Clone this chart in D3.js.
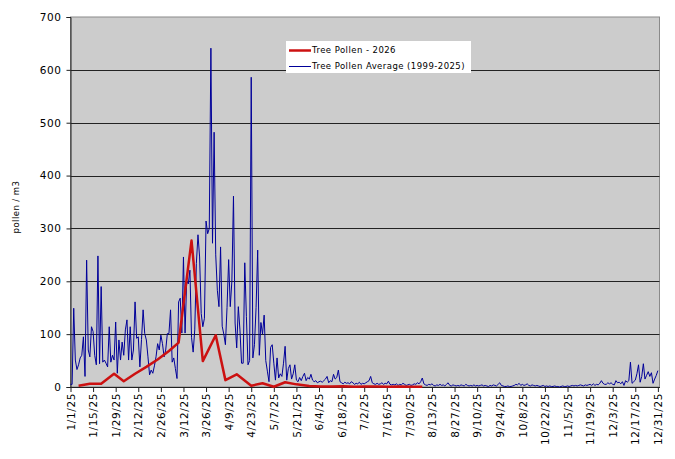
<!DOCTYPE html>
<html>
<head>
<meta charset="utf-8">
<script src="https://cdn.jsdelivr.net/npm/d3@7"></script>
<style>
  body { margin: 0; background: #fff; }
  text { font-family: "DejaVu Sans", Verdana, sans-serif; fill: #000; }
</style>
</head>
<body>
<div id="chart"></div>
<script>
// Daily tree pollen average (1999-2025), one value per day from 1/1/25
const avgStart = "1/1/25";
const avgValues = [
  5, 5, 149, 51, 33, 42, 55, 60, 95, 20,
  240, 70, 57, 114, 105, 60, 42, 248, 44, 190,
  47, 51, 45, 38, 114, 47, 60, 51, 123, 26,
  89, 51, 85, 60, 108, 127, 51, 114, 51, 70,
  161, 92, 95, 38, 90, 146, 101, 89, 57, 23,
  32, 26, 40, 57, 82, 70, 98, 82, 57, 70,
  101, 101,
  146, 47, 55, 35, 16, 161, 168, 102,
  246, 102, 200, 195, 221, 94, 66, 108, 234, 288,
  246, 139, 114, 130, 314, 290, 300, 641, 272, 482,
  250, 183, 152, 265, 115, 100, 80, 150, 241, 152,
  200, 361, 121, 74, 152, 108, 45, 45, 235, 133,
  42, 50, 586, 55, 80, 150, 259, 60, 122, 100,
  136, 50, 30, 10, 75, 80, 45, 13, 55, 17,
  25, 20, 45, 77, 13, 35,
  42, 15, 25, 42, 13, 10, 18, 12, 20, 26,
  12, 18, 15, 24, 13, 10, 12, 8, 10, 11,
  9, 12, 15, 20, 8, 12, 10, 24, 15, 18,
  32, 10, 8, 6, 9, 7, 8, 6, 10, 8,
  5, 7, 6, 9, 5, 7, 6, 8, 10, 12,
  20, 8, 6, 5, 7, 5, 6, 8, 5, 7,
  6, 11, 5, 4,
  5, 4, 6, 3, 5, 4, 7, 5, 3, 4,
  5, 3, 4, 6, 5, 8, 6, 10, 17, 6,
  4, 3, 5, 4, 6, 3, 2, 4, 3, 5,
  3, 4, 2, 5, 8, 3, 2, 4, 3, 2,
  3, 2, 4, 3, 2, 5, 3, 2, 3, 2,
  4, 2, 3, 2, 3, 4, 2, 3, 2, 1,
  3, 2, 4, 3, 2, 5, 8, 3, 2, 1,
  1, 2, 1, 1, 2, 3, 5, 4, 7, 3,
  5, 3, 4, 6, 3, 2, 4, 3, 2, 3,
  2, 1, 2, 3, 1, 2, 1, 2, 1, 1,
  2, 1, 1, 0, 1, 2, 1, 1, 2, 1,
  2, 3, 2, 3, 2, 3, 4, 3, 2, 4,
  3, 4, 5, 3, 6, 3, 5, 4, 7, 12,
  7, 5, 5, 8, 6, 8, 5, 4, 12, 8,
  9, 6, 10, 3, 12, 9, 12, 47, 7, 10,
  13, 25, 42, 9, 20, 44, 15, 22, 29, 20,
  27, 7, 15, 22, 31
];

// 2026 samples, plotted on the same calendar axis
const pollen2026Dates = [
  "1/6/25", "1/13/25", "1/20/25", "1/28/25", "2/3/25", "2/10/25", "2/17/25",
  "2/24/25", "3/3/25", "3/9/25", "3/17/25", "3/24/25", "4/1/25", "4/7/25",
  "4/14/25", "4/23/25", "4/30/25", "5/7/25", "5/14/25", "5/21/25", "5/29/25",
  "6/5/25", "6/12/25", "6/19/25", "6/26/25", "7/3/25", "7/10/25", "7/17/25",
  "7/24/25", "7/31/25", "8/7/25"
];
const pollen2026Values = [
  2.5, 6, 6, 25, 11, 25, 38,
  52, 68, 84, 277, 49, 98, 13,
  24, 2.5, 7, 0.5, 9, 5, 2,
  1, 1, 1.5, 0.5, 1, 1, 0.5,
  1, 0.5, 0.5
];

const yTicks = [0, 100, 200, 300, 400, 500, 600, 700];
const seriesNames = ["Tree Pollen - 2026", "Tree Pollen Average (1999-2025)"];

const parse = d3.timeParse("%m/%d/%y");
const fmt = d3.timeFormat("%-m/%-d/%y");
const start = parse(avgStart);
const end = d3.timeDay.offset(start, 365);

const avgData = avgValues.map((v, i) => ({ date: d3.timeDay.offset(start, i), value: v }));
const data2026 = pollen2026Dates.map((d, i) => ({ date: parse(d), value: pollen2026Values[i] }));

const width = 675;
const height = 459;
const margin = { top: 17, right: 15.5, bottom: 72, left: 70.5 };

const svg = d3
  .select("#chart")
  .append("svg")
  .attr("width", width)
  .attr("height", height);

const x = d3.scaleTime().domain([start, end]).range([margin.left, width - margin.right]);
const y = d3.scaleLinear().domain([0, 700]).range([height - margin.bottom, margin.top]);

// plot area
svg
  .append("rect")
  .attr("x", margin.left)
  .attr("y", margin.top)
  .attr("width", width - margin.right - margin.left)
  .attr("height", height - margin.bottom - margin.top)
  .attr("fill", "#cccccc")
  .attr("stroke", "#8a8a8a")
  .attr("stroke-width", 1);

// gridlines
svg
  .append("g")
  .selectAll("line")
  .data(yTicks.filter((t) => t > 0 && t < 700))
  .enter()
  .append("line")
  .attr("x1", margin.left)
  .attr("x2", width - margin.right)
  .attr("y1", (d) => Math.round(y(d)) + 0.5)
  .attr("y2", (d) => Math.round(y(d)) + 0.5)
  .attr("stroke", "#222")
  .attr("stroke-width", 1);

// y axis
const yAxis = svg
  .append("g")
  .attr("transform", `translate(${margin.left},0)`)
  .call(d3.axisLeft(y).tickValues(yTicks).tickSize(4).tickPadding(5));
yAxis.select(".domain").attr("stroke", "#222");
yAxis.selectAll(".tick line").attr("stroke", "#222");
yAxis
  .selectAll("text")
  .style("font-family", '"DejaVu Sans", Verdana, sans-serif')
  .style("font-size", "10.5px")
  .style("letter-spacing", "0.6px");

// x axis, a tick every two weeks
const xTicks = d3.timeDay.range(start, end, 14);
const xAxis = svg
  .append("g")
  .attr("transform", `translate(0,${height - margin.bottom})`)
  .call(d3.axisBottom(x).tickValues(xTicks).tickFormat(fmt).tickSize(5).tickSizeOuter(0));
xAxis.select(".domain").attr("stroke", "#222");
xAxis.selectAll(".tick line").attr("stroke", "#222");
xAxis
  .selectAll("text")
  .style("font-family", '"DejaVu Sans", Verdana, sans-serif')
  .style("font-size", "10.5px")
  .style("letter-spacing", "0.6px")
  .attr("text-anchor", "end")
  .attr("transform", "rotate(-90)")
  .attr("x", -6)
  .attr("y", 0)
  .attr("dy", "0.35em");

// y axis title
svg
  .append("text")
  .attr("transform", `translate(19,${(margin.top + height - margin.bottom) / 2 + 5}) rotate(-90)`)
  .attr("text-anchor", "middle")
  .style("font-size", "8.5px")
  .style("letter-spacing", "0.45px")
  .text("pollen / m3");

const line = d3
  .line()
  .x((d) => x(d.date))
  .y((d) => y(d.value));

svg
  .append("path")
  .datum(avgData)
  .attr("d", line)
  .attr("fill", "none")
  .attr("stroke", "#000099")
  .attr("stroke-width", 1);

svg
  .append("path")
  .datum(data2026)
  .attr("d", line)
  .attr("fill", "none")
  .attr("stroke", "#cc1111")
  .attr("stroke-width", 2.5)
  .attr("stroke-linejoin", "round");

// legend
const legend = svg.append("g").attr("transform", "translate(286,41)");
legend.append("rect").attr("width", 185).attr("height", 32).attr("fill", "#fff");
const legendColors = ["#cc1111", "#000099"];
const legendWidths = [2.5, 1];
const legendItem = legend
  .selectAll(".legend-item")
  .data(seriesNames)
  .enter()
  .append("g")
  .attr("class", "legend-item")
  .attr("transform", (d, i) => `translate(0,${9.5 + i * 16})`);

legendItem
  .append("line")
  .attr("x1", 3)
  .attr("x2", 25)
  .attr("stroke", (d, i) => legendColors[i])
  .attr("stroke-width", (d, i) => legendWidths[i]);

legendItem
  .append("text")
  .attr("x", 26)
  .attr("dy", "0.33em")
  .style("font-size", "8.5px")
  .style("letter-spacing", "0.45px")
  .text((d) => d);
</script>
</body>
</html>
